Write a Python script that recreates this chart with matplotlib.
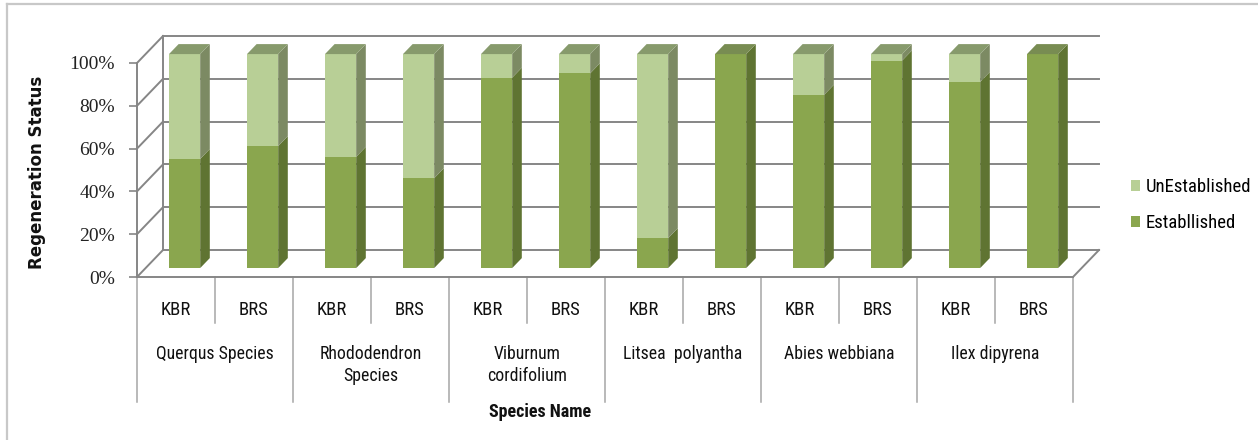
import matplotlib
matplotlib.use("Agg")
import matplotlib.pyplot as plt
from matplotlib.patches import Polygon, Rectangle, Patch
from matplotlib.lines import Line2D
from matplotlib.transforms import blended_transform_factory
from matplotlib import font_manager
from matplotlib.font_manager import FontProperties

# ---------------- data ----------------
species = ["Querqus Species", "Rhododendron\nSpecies", "Viburnum\ncordifolium",
           "Litsea  polyantha", "Abies webbiana", "Ilex dipyrena"]
sites = ["KBR", "BRS"]
established = [51, 57, 52, 42, 89, 91, 14, 100, 81, 97, 87, 100]
unestablished = [100 - v for v in established]
yticks = [0, 20, 40, 60, 80, 100]
ytick_labels = ["0%", "20%", "40%", "60%", "80%", "100%"]
series_names = ["UnEstablished", "Establlished"]

# ---------------- fonts ----------------
def _w(v):
    if isinstance(v, (int, float)):
        return v
    return {"bold": 700, "semibold": 600, "demibold": 600, "heavy": 800, "black": 900,
            "extra bold": 800, "medium": 500}.get(str(v).lower(), 400)

def cond_font(bold):
    prefs = ["Liberation Sans Narrow", "Roboto Condensed", "Open Sans Condensed",
             "Noto Sans", "Noto Sans Display", "Open Sans", "Roboto", "DejaVu Sans"]
    entries = font_manager.fontManager.ttflist
    def ok(f):
        st = str(f.stretch).lower()
        is_cond = ("condensed" in st and "extra" not in st and "ultra" not in st) or \
                  "narrow" in f.name.lower() or "condensed" in f.name.lower() or st == "semi-condensed"
        if not is_cond or f.style != "normal":
            return False
        w = _w(f.weight)
        return (w >= 650) if bold else (350 <= w <= 450)
    for p in prefs:
        for f in entries:
            if f.name == p and ok(f):
                return FontProperties(fname=f.fname), True
    for f in entries:
        if ok(f):
            return FontProperties(fname=f.fname), True
    return FontProperties(family="Liberation Sans", weight="bold" if bold else "normal"), False

REG, reg_cond = cond_font(False)
BOLD, bold_cond = cond_font(True)
SERIF = "Liberation Serif"

def fp(base, size):
    p = base.copy()
    p.set_size(size)
    return p

k = 1.0 if reg_cond else 0.88
site_size = 13.5 * k
name_size = 12.8 * k
leg_size = 13.5 * k
bold_size = 13 if bold_cond else 11.0

# ---------------- colours ----------------
est_front, est_side, est_top = "#8aa64e", "#5f7432", "#788c52"
une_front, une_side, une_top = "#b8cf96", "#7c8a63", "#879a6c"
grid_col = "#868686"

W, H = 1258, 440
fig = plt.figure(figsize=(W / 100, H / 100), dpi=100)
fig.patch.set_facecolor("white")

x_left, x_right, y_floor, y_top = 137, 1073, 277, 63
ax = fig.add_axes([x_left / W, 1 - y_floor / H, (x_right - x_left) / W, (y_floor - y_top) / H])
n = len(established)
ax.set_xlim(0, n)
ax.set_ylim(0, 100)
ax.patch.set_alpha(0)

px_x = (x_right - x_left) / n
px_y = (y_floor - y_top) / 100.0
ddx = 26 / px_x
ddy = 27 / px_y

for s in ["top", "right"]:
    ax.spines[s].set_visible(False)
for s in ["left", "bottom"]:
    ax.spines[s].set_color(grid_col)
    ax.spines[s].set_linewidth(1.4)
ax.set_xticks([])
ax.set_yticks(yticks)
ax.set_yticklabels(ytick_labels, fontfamily=SERIF, fontsize=14, color="#222222")
ax.tick_params(axis="y", length=6, width=1.2, color=grid_col, pad=10)

kw = dict(color=grid_col, lw=1.4, clip_on=False, zorder=1)
for v in yticks:
    ax.plot([ddx, n + ddx], [v + ddy, v + ddy], **kw)
    ax.plot([0, ddx], [v, v + ddy], **kw)
ax.plot([ddx, ddx], [ddy, 100 + ddy], **kw)
ax.plot([n, n + ddx], [0, ddy], **kw)

w = 0.40
f0, f1 = 0.33, 0.70
bdx, bdy = (f1 - f0) * ddx, (f1 - f0) * ddy
for i, (e, u) in enumerate(zip(established, unestablished)):
    xl = i + 0.5 - w / 2 + f0 * ddx
    yb = f0 * ddy
    segs = [(0, e, est_front, est_side, est_top), (e, e + u, une_front, une_side, une_top)]
    segs = [s for s in segs if s[1] - s[0] > 0]
    for kk, (b, t, cf, cs, ct) in enumerate(segs):
        ax.add_patch(Rectangle((xl, yb + b), w, t - b, facecolor=cf, edgecolor="none",
                               clip_on=False, zorder=3))
        ax.add_patch(Polygon([(xl + w, yb + b), (xl + w + bdx, yb + b + bdy),
                              (xl + w + bdx, yb + t + bdy), (xl + w, yb + t)],
                             closed=True, facecolor=cs, edgecolor="none", clip_on=False, zorder=3))
        if kk == len(segs) - 1:
            ax.add_patch(Polygon([(xl, yb + t), (xl + w, yb + t), (xl + w + bdx, yb + t + bdy),
                                  (xl + bdx, yb + t + bdy)],
                                 closed=True, facecolor=ct, edgecolor="none", clip_on=False, zorder=3))

def ay(px):
    return (y_floor - px) / (y_floor - y_top)
bt = blended_transform_factory(ax.transData, ax.transAxes)
sep_col = "#a6a6a6"
for j in range(n + 1):
    bottom = 402 if j % 2 == 0 else 323
    ax.plot([j, j], [0, ay(bottom)], transform=bt, color=sep_col, lw=1.1, clip_on=False)
for i in range(n):
    ax.text(i + 0.5, ay(310), sites[i % 2], transform=bt, ha="center", va="center",
            fontproperties=fp(REG, site_size), color="#111111")
for g, name in enumerate(species):
    ax.text(2 * g + 1, ay(345), name, transform=bt, ha="center", va="top",
            fontproperties=fp(REG, name_size), color="#111111", linespacing=1.25,
            multialignment="center")

fig.text(540 / W, 1 - 412 / H, "Species Name", ha="center", va="center",
         fontproperties=fp(BOLD, bold_size), color="#111111")
fig.text(37 / W, 1 - 172 / H, "Regeneration Status", ha="center", va="center", rotation=90,
         fontfamily="DejaVu Sans", fontweight="bold", fontsize=12, color="#111111")

handles = [Patch(facecolor=une_front, edgecolor="none"), Patch(facecolor=est_front, edgecolor="none")]
fig.legend(handles, series_names, loc="center left", bbox_to_anchor=(1127 / W, 1 - 205 / H),
           frameon=False, handlelength=0.5, handleheight=0.5, handletextpad=0.3,
           labelspacing=0.95, borderaxespad=0, borderpad=0.2, prop=fp(REG, leg_size))

fig.add_artist(Line2D([7 / W, 1], [1 - 4 / H, 1 - 4 / H], color="#c8c8c8", lw=1.6))
fig.add_artist(Line2D([7 / W, 7 / W], [0, 1 - 4 / H], color="#c8c8c8", lw=1.6))

fig.savefig("out.png", dpi=100)
